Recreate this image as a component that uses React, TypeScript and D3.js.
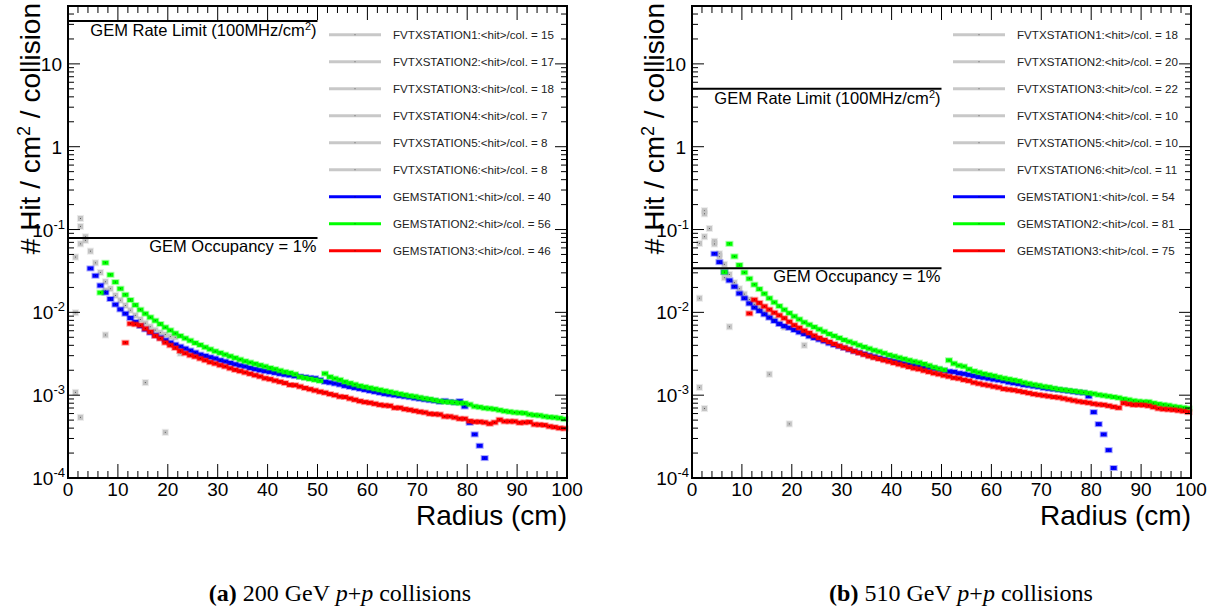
import React from 'react';
import * as d3 from 'd3';

// ---------- axes / labels ----------
const xMajorTicks = [0, 10, 20, 30, 40, 50, 60, 70, 80, 90, 100];
const yDecades = [-4, -3, -2, -1, 0, 1];
const refLineEndRadius = 50;

const legendLabelsA = [
  'FVTXSTATION1:<hit>/col. = 15',
  'FVTXSTATION2:<hit>/col. = 17',
  'FVTXSTATION3:<hit>/col. = 18',
  'FVTXSTATION4:<hit>/col. = 7',
  'FVTXSTATION5:<hit>/col. = 8',
  'FVTXSTATION6:<hit>/col. = 8',
  'GEMSTATION1:<hit>/col. = 40',
  'GEMSTATION2:<hit>/col. = 56',
  'GEMSTATION3:<hit>/col. = 46',
];
const legendLabelsB = [
  'FVTXSTATION1:<hit>/col. = 18',
  'FVTXSTATION2:<hit>/col. = 20',
  'FVTXSTATION3:<hit>/col. = 22',
  'FVTXSTATION4:<hit>/col. = 10',
  'FVTXSTATION5:<hit>/col. = 10',
  'FVTXSTATION6:<hit>/col. = 11',
  'GEMSTATION1:<hit>/col. = 54',
  'GEMSTATION2:<hit>/col. = 81',
  'GEMSTATION3:<hit>/col. = 75',
];
const legendColors = ['#c8c8c8', '#c8c8c8', '#c8c8c8', '#c8c8c8', '#c8c8c8', '#c8c8c8', '#0000ff', '#00ff00', '#ff0000'];

const rateLimitA = 33;
const occupancyA = 0.079;
const rateLimitB = 5.0;
const occupancyB = 0.034;

// ---------- panel (a) 200 GeV ----------
const gem1StartA = 4.5;
const gem1A = [
  0.0339, 0.0277, 0.0211, 0.0173, 0.0145, 0.0124, 0.01086, 0.00964, 0.00855, 0.00764,
  0.00684, 0.00624, 0.00569, 0.00528, 0.00495, 0.0046, 0.00431, 0.00408, 0.00386, 0.00365,
  0.00346, 0.00327, 0.00309, 0.00298, 0.00287, 0.00277, 0.00264, 0.00255, 0.00245, 0.00236,
  0.00228, 0.00222, 0.00213, 0.00206, 0.002, 0.00195, 0.00191, 0.00186, 0.00181, 0.00177,
  0.00174, 0.0017, 0.00168, 0.00165, 0.00162, 0.0016, 0.00153,
  0.001448, 0.001421, 0.001383, 0.001344, 0.001295, 0.001259, 0.001225, 0.001192, 0.001159, 0.001127,
  0.001097, 0.001067, 0.001037, 0.001019, 0.001, 0.000982, 0.000964, 0.000946, 0.00092, 0.000903,
  0.000886, 0.00087, 0.000855, 0.000831, 0.000855, 0.000831, 0.000816, 0.000847,
  0.00073, 0.000464, 0.000336, 0.000245, 0.000174,
];
const gem2StartA = 6.5;
const gem2A = [
  0.0173, 0.0397, 0.0284, 0.0232, 0.0193, 0.0163, 0.0141, 0.01225, 0.01076, 0.00964,
  0.00871, 0.00794, 0.00723, 0.00659, 0.00607, 0.00558, 0.00519, 0.00486, 0.00456, 0.00427,
  0.00404, 0.00379, 0.00358, 0.00339, 0.00324, 0.00309, 0.00295, 0.00282, 0.00269, 0.00257,
  0.00248, 0.00239, 0.0023, 0.00222, 0.00213, 0.00206, 0.00198, 0.00191, 0.00186, 0.00179,
  0.00166, 0.00161, 0.00157, 0.00153, 0.00149,
  0.001824, 0.001663, 0.001588, 0.001531, 0.001448, 0.001395, 0.001344, 0.001295, 0.001259, 0.001225,
  0.001192, 0.001159, 0.001127, 0.001097, 0.001067, 0.001037, 0.001009, 0.000982, 0.000964, 0.000937,
  0.000912, 0.000895, 0.00087, 0.000847, 0.000831, 0.000824, 0.000816, 0.000801,
  0.000801, 0.000772, 0.00073, 0.000717, 0.000697, 0.00069, 0.000678, 0.000659, 0.000641, 0.00063,
  0.000618, 0.000613, 0.000607, 0.000585, 0.000574, 0.000569, 0.000553, 0.000543, 0.000538, 0.000528,
  0.000514,
];
const gem3StartA = 11.5;
const gem3A = [
  0.0043,
  0.0073, 0.00717, 0.00697, 0.00636, 0.0058, 0.00519, 0.00482, 0.00431, 0.004, 0.00372,
  0.00342, 0.00321, 0.00303, 0.00292, 0.00277, 0.00264, 0.0025, 0.00241, 0.0023, 0.00222,
  0.00211, 0.00202, 0.00195, 0.00188, 0.00181, 0.00174, 0.00168, 0.0016, 0.00156, 0.0015,
  0.00145, 0.0014, 0.00133, 0.00132, 0.00127, 0.00122, 0.00118, 0.00114, 0.0011, 0.00107,
  0.00103, 0.001, 0.00096, 0.00095, 0.00091, 0.00088,
  0.000847, 0.000824, 0.000809, 0.000787, 0.000764, 0.000751, 0.000744, 0.000704, 0.000704, 0.000678,
  0.000665, 0.000647, 0.00063, 0.000618, 0.000596, 0.00059, 0.000585, 0.000553, 0.000553, 0.000538,
  0.000519, 0.000519, 0.000486, 0.000477, 0.000477, 0.000469, 0.000452, 0.000469, 0.000505, 0.000482,
  0.000482, 0.000482, 0.000464, 0.000469, 0.000473, 0.000443, 0.00044, 0.000435, 0.000419, 0.000411,
  0.0004, 0.000396,
];
// FVTX stations: [radius, value]
const fvtx1A = [[2.5, 0.136], [3.5, 0.0817], [4.5, 0.0548], [5.5, 0.0396], [6.5, 0.0303], [7.5, 0.0234], [8.5, 0.0193], [9.5, 0.016], [10.5, 0.014], [11.5, 0.0121], [12.5, 0.0106], [13.5, 0.0092], [14.5, 0.0082], [15.5, 0.0074], [16.5, 0.0067], [17.5, 0.0061], [18.5, 0.0057], [19.5, 0.0054], [20.5, 0.0051], [21.5, 0.005]];
const fvtx2A = [[2.5, 0.109], [3.5, 0.074], [7.5, 0.0184]];
const fvtx3A = [[2.5, 0.0672], [1.5, 0.0465]];
const fvtx4A = [[1.5, 0.0099], [7.5, 0.00533]];
const fvtx5A = [[1.5, 0.00108], [15.5, 0.00142], [22.5, 0.0032]];
const fvtx6A = [[2.5, 0.00054], [19.5, 0.000356]];

// ---------- panel (b) 510 GeV ----------
const gem1StartB = 4.5;
const gem1B = [
  0.051, 0.0404, 0.0306, 0.0243, 0.0204, 0.0169, 0.0148, 0.0128, 0.0114, 0.0104,
  0.00946, 0.00863, 0.00787, 0.00723, 0.00684, 0.0065, 0.00612, 0.00575,
  0.00548, 0.00514, 0.00491, 0.00469, 0.00448, 0.00423, 0.00404, 0.00389, 0.00372, 0.00355,
  0.00339, 0.00327, 0.00315, 0.00303, 0.00292, 0.00282, 0.00272, 0.00264, 0.00257, 0.0025,
  0.00241, 0.00234, 0.0023, 0.00223, 0.00219, 0.00215, 0.00209, 0.00204, 0.00198, 0.00193,
  0.00191, 0.00184,
  0.00181, 0.00176, 0.00171, 0.00166, 0.00163, 0.00159, 0.00155, 0.00152, 0.00148, 0.00143,
  0.0014, 0.00137, 0.00133, 0.00131, 0.00128, 0.00126, 0.00122, 0.0012, 0.00118, 0.00116,
  0.00114, 0.00112, 0.0011, 0.00108, 0.00107, 0.00097, 0.000624, 0.000447, 0.000336, 0.000217,
  0.000132,
];
const gem2StartB = 6.5;
const gem2B = [
  0.0306,
  0.0672, 0.0473, 0.0372, 0.0303, 0.0255, 0.0216, 0.0191, 0.0168, 0.0148, 0.0132,
  0.0119, 0.01076, 0.0098, 0.00895, 0.00824,
  0.00758, 0.0071, 0.00665, 0.00624, 0.00585, 0.00548, 0.00519, 0.00491, 0.00464, 0.00443,
  0.00423, 0.004, 0.00382, 0.00365, 0.00348, 0.00336, 0.00321, 0.00306, 0.00295, 0.00284,
  0.00274, 0.00264, 0.00255, 0.00248, 0.00238, 0.00228, 0.00217, 0.00209, 0.00202,
  0.00264, 0.00241, 0.00228, 0.00222, 0.00206, 0.00195, 0.00188, 0.00181, 0.00176, 0.00171,
  0.00165, 0.0016, 0.00156, 0.00152, 0.00148, 0.00142, 0.00138, 0.00134, 0.00131, 0.00127,
  0.00125, 0.00121, 0.00118, 0.00116, 0.00114, 0.00112, 0.0011, 0.00108, 0.00106, 0.00104,
  0.00101, 0.00099, 0.00097, 0.00095, 0.00093, 0.0009, 0.00088, 0.000855, 0.00084, 0.000831,
  0.000831, 0.000801, 0.00078, 0.000765, 0.000751, 0.00073, 0.000717, 0.000704, 0.00069,
];
const gem3StartB = 11.5;
const gem3B = [
  0.0097,
  0.0142, 0.013, 0.0118, 0.0108, 0.0099, 0.0092, 0.0085, 0.0077, 0.007, 0.0065,
  0.00601, 0.00564, 0.00524, 0.00491, 0.00464, 0.00439, 0.00415, 0.00393, 0.00375, 0.00358,
  0.00339, 0.00324, 0.00309, 0.00295, 0.00284, 0.00274, 0.00264, 0.00255, 0.00245, 0.00236,
  0.00228, 0.00219, 0.00211, 0.00206, 0.00198, 0.00191, 0.00184, 0.00179, 0.00173, 0.00168,
  0.00162, 0.00159,
  0.00153, 0.00149, 0.00142, 0.00138, 0.00134, 0.00131, 0.00127, 0.00124, 0.00119, 0.00117,
  0.00115, 0.00112, 0.00109, 0.00106, 0.00103, 0.00101, 0.00099, 0.00097, 0.00095, 0.000937,
  0.000912, 0.000886, 0.000862, 0.00084, 0.000824, 0.000809, 0.000787, 0.000772, 0.000764, 0.000744,
  0.000723, 0.000704, 0.000801, 0.00078, 0.000764, 0.000764, 0.000758, 0.000744, 0.000717, 0.00069,
  0.000678, 0.000672, 0.000665, 0.000653, 0.000641, 0.000624,
];
const fvtx1B = [[2.5, 0.169], [3.5, 0.103], [4.5, 0.072], [5.5, 0.051], [6.5, 0.038], [7.5, 0.0287], [8.5, 0.0228], [9.5, 0.0193], [10.5, 0.0166], [11.5, 0.0143], [12.5, 0.0125], [13.5, 0.0112], [14.5, 0.01], [15.5, 0.009], [16.5, 0.0082], [17.5, 0.0074], [18.5, 0.0066]];
const fvtx2B = [[2.5, 0.155], [4.5, 0.067], [5.5, 0.047], [6.5, 0.0262]];
const fvtx3B = [[2.5, 0.082], [1.5, 0.068]];
const fvtx4B = [[1.5, 0.0148], [7.5, 0.0067]];
const fvtx5B = [[22.5, 0.004], [15.5, 0.00179], [1.5, 0.00124]];
const fvtx6B = [[2.5, 0.00069], [19.5, 0.00045]];

const FONT = 'Liberation Sans, Arial, Helvetica, sans-serif';

type Pt = [number, number];

function binned(start: number, vals: number[]): Pt[] {
  return vals.map((v, i) => [start + i, v] as Pt);
}

function Marker({ cx, cy, color, grey }: { cx: number; cy: number; color: string; grey?: boolean }) {
  const w = grey ? 5 : 6;
  const h = grey ? 5 : 4;
  return (
    <g>
      <rect x={cx - w / 2 - 1} y={cy - h / 2 - 1} width={w + 2} height={h + 2} fill={color} opacity={0.35} />
      <rect x={cx - w / 2} y={cy - h / 2} width={w} height={h} fill={color} />
      <rect x={cx - 0.5} y={cy - 0.5} width={1} height={1} fill="#000" opacity={0.55} />
    </g>
  );
}

function Panel(props: {
  left: number;
  legend: string[];
  rate: number;
  occ: number;
  fvtx: Pt[][];
  gem1: Pt[];
  gem2: Pt[];
  gem3: Pt[];
  captionX: number;
  captionTag: string;
  energy: string;
}) {
  const { left } = props;
  const right = left + 499;
  const top = 6;
  const bottom = 478;
  const x = d3.scaleLinear().domain([0, 100]).range([left, right]);
  const y = d3.scaleLog().domain([1e-4, 50]).range([bottom, top]);

  const xMinor = d3.range(0, 101, 2).filter((v) => v % 10 !== 0);
  const yMajor = yDecades.map((k) => Math.pow(10, k));
  const yMinor: number[] = [];
  yDecades.forEach((k) => {
    for (let m = 2; m <= 9; m++) {
      const v = m * Math.pow(10, k);
      if (v <= 50) yMinor.push(v);
    }
  });

  const legendY = (i: number) => 34.7 + 27 * i;

  return (
    <g>
      {/* data */}
      {props.fvtx.map((s, si) =>
        s.map((p, i) => <Marker key={`f${si}-${i}`} cx={x(p[0])} cy={y(p[1])} color="#c4c4c4" grey />)
      )}
      {props.gem1.map((p, i) => (
        <Marker key={`b${i}`} cx={x(p[0])} cy={y(p[1])} color="#0000ff" />
      ))}
      {props.gem2.map((p, i) => (
        <Marker key={`g${i}`} cx={x(p[0])} cy={y(p[1])} color="#00ff00" />
      ))}
      {props.gem3.map((p, i) => (
        <Marker key={`r${i}`} cx={x(p[0])} cy={y(p[1])} color="#ff0000" />
      ))}

      {/* reference lines */}
      <line x1={x(0)} x2={x(refLineEndRadius)} y1={y(props.rate)} y2={y(props.rate)} stroke="#000" strokeWidth={2} />
      <text x={x(refLineEndRadius) - 1} y={y(props.rate) + 15} textAnchor="end" fontFamily={FONT} fontSize={16.5} fill="#000">
        GEM Rate Limit (100MHz/cm<tspan dy={-6} fontSize={11}>2</tspan><tspan dy={6}>)</tspan>
      </text>
      <line x1={x(0)} x2={x(refLineEndRadius)} y1={y(props.occ)} y2={y(props.occ)} stroke="#000" strokeWidth={2} />
      <text x={x(refLineEndRadius) - 1} y={y(props.occ) + 14} textAnchor="end" fontFamily={FONT} fontSize={16.5} fill="#000">
        GEM Occupancy = 1%
      </text>

      {/* legend */}
      {props.legend.map((lab, i) => (
        <g key={`lg${i}`}>
          <line x1={left + 261} x2={left + 313} y1={legendY(i)} y2={legendY(i)} stroke={legendColors[i]} strokeWidth={3} />
          <rect x={left + 286.5} y={legendY(i) - 0.5} width={1} height={1} fill="#000" opacity={0.5} />
          <text x={left + 325} y={legendY(i) + 4} fontFamily={FONT} fontSize={11.6} fill="#222">
            {lab}
          </text>
        </g>
      ))}

      {/* frame */}
      <rect x={left} y={top} width={right - left} height={bottom - top} fill="none" stroke="#000" strokeWidth={2} />

      {/* x ticks */}
      {xMajorTicks.map((t) => (
        <g key={`xt${t}`}>
          <line x1={x(t)} x2={x(t)} y1={bottom} y2={bottom - 14} stroke="#000" strokeWidth={1} />
          <line x1={x(t)} x2={x(t)} y1={top} y2={top + 14} stroke="#000" strokeWidth={1} />
          <text x={x(t)} y={bottom + 18} textAnchor="middle" fontFamily={FONT} fontSize={19} fill="#000">
            {t}
          </text>
        </g>
      ))}
      {xMinor.map((t) => (
        <g key={`xm${t}`}>
          <line x1={x(t)} x2={x(t)} y1={bottom} y2={bottom - 7} stroke="#000" strokeWidth={1} />
          <line x1={x(t)} x2={x(t)} y1={top} y2={top + 7} stroke="#000" strokeWidth={1} />
        </g>
      ))}

      {/* y ticks */}
      {yMajor.map((v, i) => (
        <g key={`yt${i}`}>
          <line x1={left} x2={left + 12} y1={y(v)} y2={y(v)} stroke="#000" strokeWidth={1} />
          <line x1={right} x2={right - 12} y1={y(v)} y2={y(v)} stroke="#000" strokeWidth={1} />
          {yDecades[i] === 0 || yDecades[i] === 1 ? (
            <text x={left - 6} y={y(v) + 7} textAnchor="end" fontFamily={FONT} fontSize={19} fill="#000">
              {yDecades[i] === 0 ? '1' : '10'}
            </text>
          ) : (
            <text x={left - 3} y={y(v) + 7} textAnchor="end" fontFamily={FONT} fontSize={19} fill="#000">
              10<tspan dy={-8} fontSize={13}>{String(yDecades[i])}</tspan>
            </text>
          )}
        </g>
      ))}
      {yMinor.map((v, i) => (
        <g key={`ym${i}`}>
          <line x1={left} x2={left + 6} y1={y(v)} y2={y(v)} stroke="#000" strokeWidth={1} />
          <line x1={right} x2={right - 6} y1={y(v)} y2={y(v)} stroke="#000" strokeWidth={1} />
        </g>
      ))}

      {/* axis titles */}
      <text x={right} y={525} textAnchor="end" fontFamily={FONT} fontSize={28} fill="#000">
        Radius (cm)
      </text>
      <text
        transform={`translate(${left - 28},3) rotate(-90)`}
        textAnchor="end"
        fontFamily={FONT}
        fontSize={28}
        fill="#000"
      >
        # Hit / cm<tspan dy={-10} fontSize={18}>2</tspan><tspan dy={10}> / collision</tspan>
      </text>

      {/* caption */}
      <text x={props.captionX} y={601} textAnchor="middle" fontFamily="Liberation Serif, Times New Roman, serif" fontSize={24} fill="#000">
        <tspan fontWeight="bold">{props.captionTag}</tspan> {props.energy} GeV <tspan fontStyle="italic">p</tspan>+<tspan fontStyle="italic">p</tspan> collisions
      </text>
    </g>
  );
}

export default function App() {
  const fvtxA = [fvtx1A, fvtx2A, fvtx3A, fvtx4A, fvtx5A, fvtx6A] as Pt[][];
  const fvtxB = [fvtx1B, fvtx2B, fvtx3B, fvtx4B, fvtx5B, fvtx6B] as Pt[][];
  return (
    <svg
      width={1216}
      height={614}
      style={{ position: 'absolute', left: 0, top: 0, background: '#fff' }}
    >
      <rect x={0} y={0} width={1216} height={614} fill="#fff" />
      <Panel
        left={68}
        legend={legendLabelsA}
        rate={rateLimitA}
        occ={occupancyA}
        fvtx={fvtxA}
        gem1={binned(gem1StartA, gem1A)}
        gem2={binned(gem2StartA, gem2A)}
        gem3={binned(gem3StartA, gem3A)}
        captionX={340}
        captionTag="(a)"
        energy="200"
      />
      <Panel
        left={692}
        legend={legendLabelsB}
        rate={rateLimitB}
        occ={occupancyB}
        fvtx={fvtxB}
        gem1={binned(gem1StartB, gem1B)}
        gem2={binned(gem2StartB, gem2B)}
        gem3={binned(gem3StartB, gem3B)}
        captionX={961}
        captionTag="(b)"
        energy="510"
      />
    </svg>
  );
}
